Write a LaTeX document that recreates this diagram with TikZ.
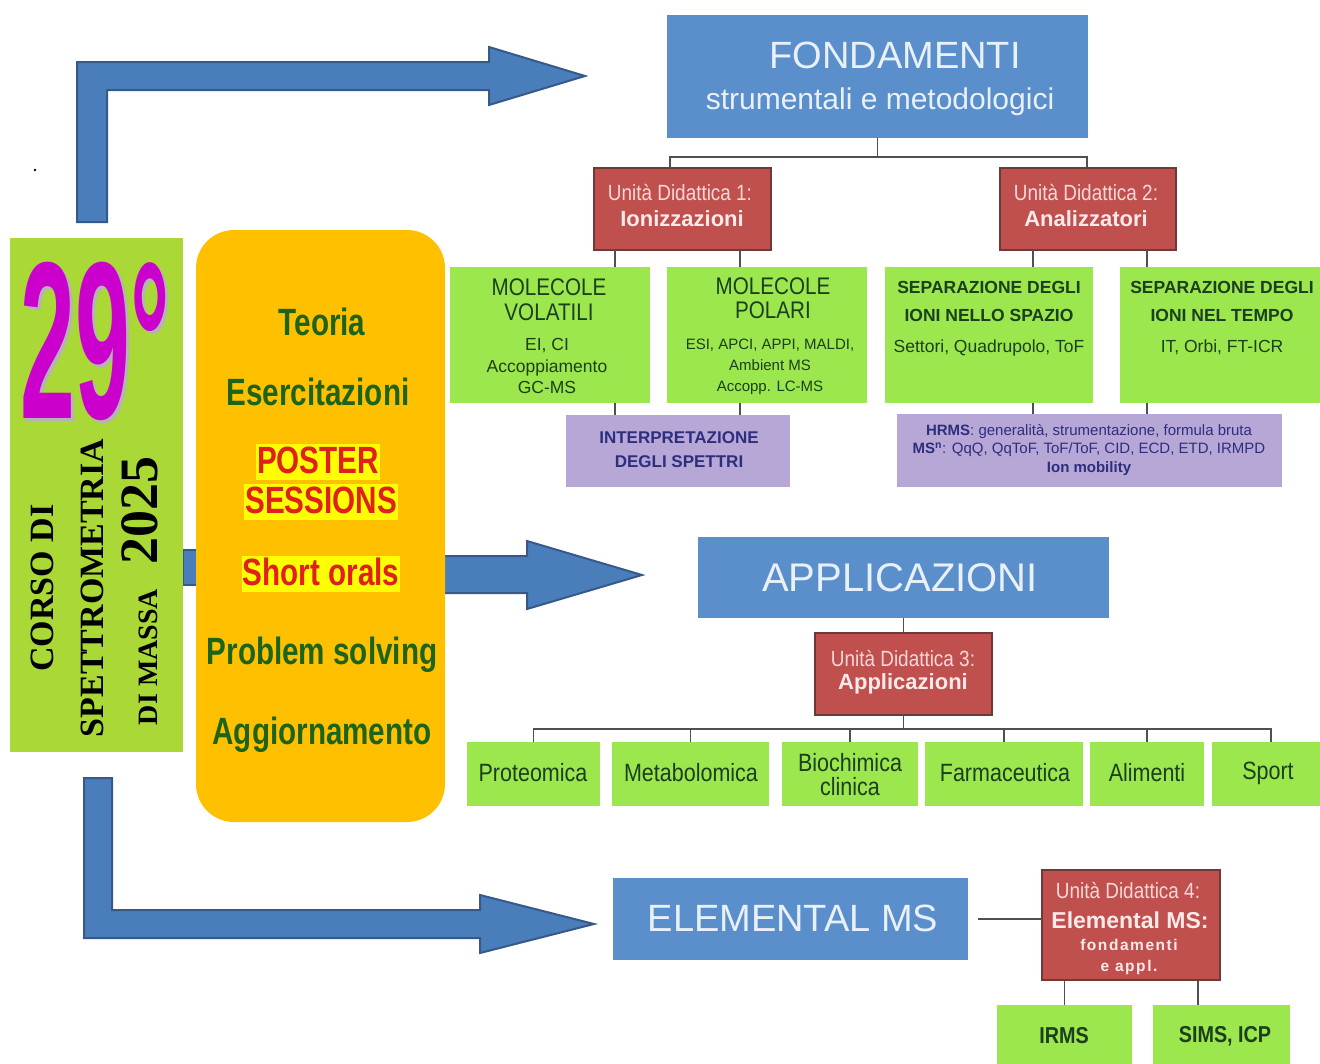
\documentclass[tikz,border=0pt]{standalone}
\usepackage{fontspec}
\setmainfont{Liberation Sans}
\newfontfamily\cnd[FakeStretch=0.86]{Liberation Sans}
\newfontfamily\ccnd[FakeStretch=0.78]{Liberation Sans}
\newfontfamily\lsp[LetterSpace=10]{Liberation Sans}
\newfontfamily\srf{Liberation Serif}
\usetikzlibrary{calc}
\newcommand\fsz[2]{\fontsize{#1}{#2}\selectfont}
\definecolor{bluebox}{HTML}{5B8FCB}
\definecolor{bluearr}{HTML}{4A7EBB}
\definecolor{bluearrD}{HTML}{37598A}
\definecolor{bluet}{HTML}{E8F0F9}
\definecolor{redbox}{HTML}{C0504D}
\definecolor{redboxD}{HTML}{6E3A38}
\definecolor{pinkt}{HTML}{F6D8D8}
\definecolor{pinkb}{HTML}{FCEAEA}
\definecolor{greenbox}{HTML}{9CE64E}
\definecolor{limebox}{HTML}{AAD836}
\definecolor{goldbox}{HTML}{FFC000}
\definecolor{lavbox}{HTML}{B6A7D6}
\definecolor{navyt}{HTML}{2E2E7E}
\definecolor{boxtext}{HTML}{1C3F1C}
\definecolor{dkgreen}{HTML}{1E6418}
\definecolor{hlred}{HTML}{E0201A}
\definecolor{hlyel}{HTML}{FFFF00}
\definecolor{magent}{HTML}{CC00CC}
\definecolor{shadowgray}{HTML}{B4B4B4}
\definecolor{connc}{HTML}{505050}
\begin{document}
\begin{tikzpicture}[x=1pt,y=-1pt,
  every node/.style={inner sep=0pt, outer sep=0pt},
  bluebox/.style={fill=bluebox},
  redbox/.style={fill=redbox, draw=redboxD, line width=1.5pt},
  grbox/.style={fill=greenbox},
  lavbox/.style={fill=lavbox},
  conn/.style={draw=connc, line width=1.6pt},
  barrow/.style={fill=bluearr, draw=bluearrD, line width=2pt, line join=miter},
  bt/.style={text=bluet},
  udl/.style={text=pinkt, font=\cnd\fsz{22}{24}},
  udb/.style={text=pinkb, font=\bfseries\fsz{22}{24}},
  gt/.style={text=boxtext, align=center},
  yt/.style={text=dkgreen, font=\ccnd\bfseries\fsz{38}{40}},
  rt/.style={text=hlred, fill=hlyel, font=\ccnd\bfseries\fsz{38}{40}, inner xsep=1pt, text height=29pt, text depth=7pt},
  vt/.style={rotate=90, anchor=base, font=\srf\bfseries},
  apt/.style={text=boxtext, font=\cnd\fsz{25}{24}, align=center},
]
\clip (0,0) rectangle (1320,1063);
\fill[white] (0,0) rectangle (1320,1063);

% block arrows
\draw[barrow] (77,222) -- (77,62) -- (489,62) -- (489,47) -- (585,76) -- (489,105) -- (489,90) -- (107,90) -- (107,222) -- cycle;
\draw[barrow] (183,550) rectangle (205,585);
\draw[barrow] (400,556) -- (527,556) -- (527,541) -- (642,575) -- (527,609) -- (527,593) -- (400,593) -- cycle;
\draw[barrow] (84,778) -- (84,938) -- (480,938) -- (480,953) -- (594,924) -- (480,895) -- (480,910) -- (112,910) -- (112,778) -- cycle;

\node[circle, fill=black, inner sep=0.9pt] (dot) at (35,170) {};

% left title box
\node[fill=limebox, minimum width=173, minimum height=514] (lbox) at (96.5,495) {};
\node[text=magent, anchor=base] (n29) at (95,418.5) {\scalebox{0.44}[1]{\bfseries\fsz{224}{224}\rlap{\hspace{8pt}\raisebox{-2.5pt}{\textcolor{shadowgray}{29°}}}29°}};
\node[vt, font=\srf\bfseries\fsz{34}{34}] (corso) at (53,588) {CORSO DI};
\node[vt, font=\srf\bfseries\fsz{34}{34}] (spettr) at (103,588) {SPETTROMETRIA};
\node[vt, font=\srf\bfseries\fsz{28}{28}] (massa) at (157,591) {DI MASSA\hspace{24pt}{\fsz{54}{54}2025}};

% yellow activity box
\node[fill=goldbox, rounded corners=38pt, minimum width=249, minimum height=592] (ybox) at (320.5,526) {};
\node[yt] (teoria) at (322,322) {Teoria};
\node[yt] (eserc) at (318,392) {Esercitazioni};
\node[rt] (poster) at (318,462) {POSTER};
\node[rt] (sessions) at (321,502) {SESSIONS};
\node[rt] (shorto) at (321,574) {Short orals};
\node[yt] (probl) at (322,655) {Problem solving};
\node[yt] (aggio) at (322,735) {Aggiornamento};

% FONDAMENTI
\node[bluebox, minimum width=421, minimum height=123] (fond) at (877.5,76.5) {};
\node[bt, font=\fsz{38}{40}] (fondA) at (895,55) {FONDAMENTI};
\node[bt, font=\fsz{30}{32}] (fondB) at (880,102) {strumentali e metodologici};

\node[redbox, minimum width=177, minimum height=82] (ud1) at (682.5,209) {};
\node[udl] (ud1a) at (680,193) {Unità Didattica 1:};
\node[udb] (ud1b) at (682,219) {Ionizzazioni};
\node[redbox, minimum width=176, minimum height=82] (ud2) at (1088,209) {};
\node[udl] (ud2a) at (1086,193) {Unità Didattica 2:};
\node[udb] (ud2b) at (1086,219) {Analizzatori};

\node[grbox, minimum width=200, minimum height=136] (mv) at (550,335) {};
\node[gt, font=\cnd\fsz{24}{25}] (mvA) at (549,299.5) {MOLECOLE\\VOLATILI};
\node[gt, font=\fsz{17.5}{21.5}] (mvB) at (547,366) {EI, CI\\Accoppiamento\\GC-MS};
\node[grbox, minimum width=200, minimum height=136] (mp) at (767,335) {};
\node[gt, font=\cnd\fsz{24}{24}] (mpA) at (773,298) {MOLECOLE\\POLARI};
\node[gt, font=\fsz{15}{21}] (mpB) at (770,367) {ESI, APCI, APPI, MALDI,\\Ambient MS\\Accopp. LC-MS};
\node[grbox, minimum width=208, minimum height=136] (ss) at (989,335) {};
\node[gt, font=\bfseries\fsz{17.5}{28}] (ssA) at (989,301) {SEPARAZIONE DEGLI\\IONI NELLO SPAZIO};
\node[gt, font=\fsz{17.5}{20}] (ssB) at (989,348) {Settori, Quadrupolo, ToF};
\node[grbox, minimum width=210, minimum height=136] (st) at (1225,335) {};
\node[gt, font=\bfseries\fsz{17.5}{28}] (stA) at (1222,301) {SEPARAZIONE DEGLI\\IONI NEL TEMPO};
\node[gt, font=\fsz{17.5}{20}] (stB) at (1222,347) {IT, Orbi, FT-ICR};

\node[lavbox, minimum width=224, minimum height=72] (int) at (678,451) {};
\node[text=navyt, align=center, font=\bfseries\fsz{17}{24}] (intT) at (679,450) {INTERPRETAZIONE\\DEGLI SPETTRI};
\node[lavbox, minimum width=385, minimum height=73] (hrms) at (1089.5,450.5) {};
\node[text=navyt, align=center, font=\fsz{15}{18.5}] (hrmsT) at (1089,450) {\textbf{HRMS}: generalità, strumentazione, formula bruta\\\textbf{MS\textsuperscript{n}}: QqQ, QqToF, ToF/ToF, CID, ECD, ETD, IRMPD\\\textbf{Ion mobility}};

\draw[conn] (fond.south) -- ++(0,19) coordinate (fj);
\draw[conn] ($(ud1.north)+(-12.5,0)$) |- (fj) -| ($(ud2.north)+(-1,0)$);
\draw[conn] ($(ud1.south)+(-67.5,0)$) -- ($(mv.north)+(65,0)$);
\draw[conn] ($(ud1.south)+(57.5,0)$) -- ($(mp.north)+(-27,0)$);
\draw[conn] ($(ud2.south)+(-55,0)$) -- ($(ss.north)+(44,0)$);
\draw[conn] ($(ud2.south)+(59,0)$) -- ($(st.north)+(-78,0)$);
\draw[conn] ($(mv.south)+(65,0)$) -- ($(int.north)+(-63,0)$);
\draw[conn] ($(mp.south)+(-27,0)$) -- ($(int.north)+(62,0)$);
\draw[conn] ($(ss.south)+(44,0)$) -- ($(hrms.north)+(-56.5,0)$);
\draw[conn] ($(st.south)+(-78,0)$) -- ($(hrms.north)+(57.5,0)$);

% APPLICAZIONI
\node[bluebox, minimum width=411, minimum height=81] (app) at (903.5,577.5) {};
\node[bt, font=\fsz{40}{42}] (appT) at (900,578) {APPLICAZIONI};
\node[redbox, minimum width=177, minimum height=82] (ud3) at (903.5,674) {};
\node[udl] (ud3a) at (903,658) {Unità Didattica 3:};
\node[udb] (ud3b) at (903,684) {Applicazioni};

\node[grbox, minimum width=133, minimum height=64] (prot) at (533.5,774) {};
\node[apt] (protT) at (533,773) {Proteomica};
\node[grbox, minimum width=157, minimum height=64] (meta) at (690.5,774) {};
\node[apt] (metaT) at (691,773) {Metabolomica};
\node[grbox, minimum width=136, minimum height=64] (bio) at (850,774) {};
\node[apt] (bioT) at (850,775) {Biochimica\\clinica};
\node[grbox, minimum width=158, minimum height=64] (farm) at (1004,774) {};
\node[apt] (farmT) at (1005,773) {Farmaceutica};
\node[grbox, minimum width=114, minimum height=64] (alim) at (1147,774) {};
\node[apt] (alimT) at (1147,773) {Alimenti};
\node[grbox, minimum width=118, minimum height=64] (sport) at (1271,774) {};
\node[apt] (sportT) at (1268,773) {Sport};

\draw[conn] (app.south) -- (ud3.north);
\draw[conn] (ud3.south) -- ++(0,14) coordinate (aj);
\foreach \b in {prot,meta,bio,farm,alim,sport} \draw[conn] (\b.north) |- (aj);

% ELEMENTAL MS
\node[bluebox, minimum width=355, minimum height=82] (elem) at (790.5,919) {};
\node[bt, font=\fsz{38}{40}] (elemT) at (793,918) {ELEMENTAL MS};
\node[redbox, minimum width=178, minimum height=110] (ud4) at (1131,925) {};
\node[udl] (ud4a) at (1128,890) {Unità Didattica 4:};
\node[text=pinkb, font=\bfseries\fsz{23}{25}] (ud4b) at (1130,920) {Elemental MS:};
\node[text=pinkb, align=center, font=\lsp\bfseries\fsz{15.5}{21}] (ud4c) at (1129,957) {fondamenti\\e appl.};

\node[grbox, minimum width=135, minimum height=70] (irms) at (1064.5,1040) {};
\node[text=boxtext, font=\cnd\bfseries\fsz{23}{24}] (irmsT) at (1064,1036) {IRMS};
\node[grbox, minimum width=137, minimum height=70] (sims) at (1221.5,1040) {};
\node[text=boxtext, font=\cnd\bfseries\fsz{23}{24}] (simsT) at (1225,1036) {SIMS, ICP};

\draw[conn, shorten <=10pt] (elem.east) -- (elem.east -| ud4.west);
\draw[conn] (irms.north) -- (irms.north |- ud4.south);
\draw[conn] ($(sims.north)+(-23.5,0)$) -- ($(ud4.south)+(67,0)$);
\end{tikzpicture}
\end{document}
